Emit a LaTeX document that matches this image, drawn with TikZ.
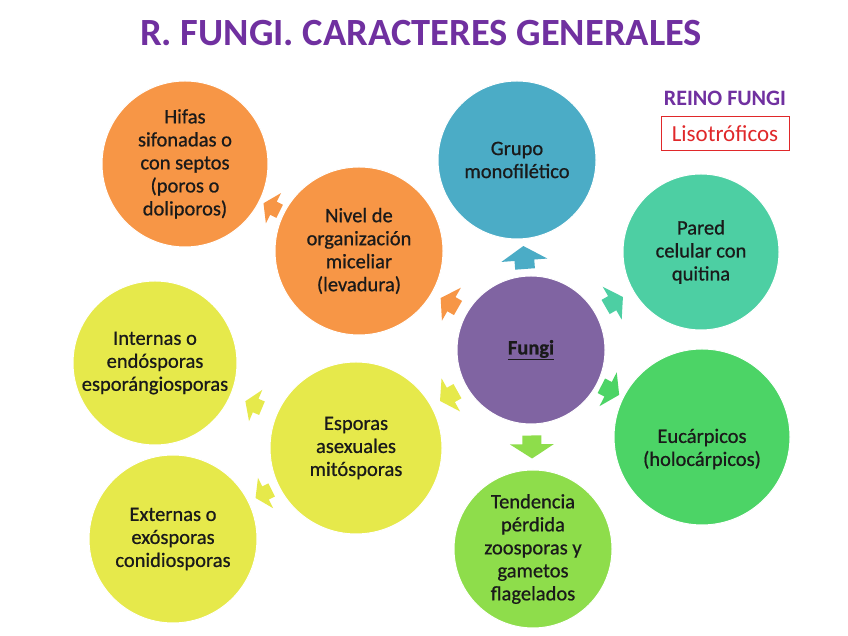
\documentclass[tikz,border=0pt]{standalone}
\usepackage{fontspec}
\setmainfont{Carlito}
\newfontfamily\circfont[FakeBold=0.7]{Carlito}
\usetikzlibrary{calc}
\definecolor{fungiC}{HTML}{8064A2}
\definecolor{blueC}{HTML}{4BACC6}
\definecolor{tealC}{HTML}{4DCFA3}
\definecolor{greenC}{HTML}{4CD466}
\definecolor{lgreenC}{HTML}{8EDD4B}
\definecolor{yellowC}{HTML}{E6E94B}
\definecolor{orangeC}{HTML}{F79646}
\definecolor{titleC}{HTML}{7030A0}
\definecolor{redC}{HTML}{E0282A}
\definecolor{txtC}{HTML}{1A1A1A}
\tikzset{
  pics/barrow/.style args={#1/#2/#3}{code={%
    \fill[#3] ({-#1/2},{-0.215*#2}) -- ({#1/2-0.62*#1},{-0.215*#2}) -- ({#1/2-0.62*#1},{-#2/2})
      -- ({#1/2},0) -- ({#1/2-0.62*#1},{#2/2}) -- ({#1/2-0.62*#1},{0.215*#2}) -- ({-#1/2},{0.215*#2}) -- cycle;}},
  circtext/.style={align=center, font=\circfont\fontsize{20.5}{23}\selectfont, text=txtC},
  circ/.style={circle, draw=white, line width=1pt, inner sep=0pt, circtext},
  onpath/.style={pos=0.5, sloped, allow upside down}
}
\begin{document}
\begin{tikzpicture}[x=1pt,y=1pt]
\useasboundingbox[fill=white] (0,0) rectangle (848,636);
% title
\node[anchor=base, font=\fontsize{38.5}{46}\bfseries\selectfont, text=titleC, inner sep=0pt] (title) at (421,590) {R. FUNGI. CARACTERES GENERALES};
\node[anchor=base, font=\fontsize{22}{26}\bfseries\selectfont, text=titleC, inner sep=0pt] (reino) at (725,530) {REINO FUNGI};
\node[draw=redC, line width=1pt, minimum width=128pt, minimum height=34pt, inner sep=0pt,
  font=\fontsize{23}{26}\selectfont, text=redC] (liso) at (725,502) {Lisotróficos};
% circles
\node[circ, fill=fungiC, minimum size=148pt] (fungi) at (531,286) {\textbf{\underline{Fungi}}};
\node[circ, fill=blueC, minimum size=158pt] (grupo) at (517,476) {Grupo\\monofilético};
\node[circ, fill=tealC, minimum size=156pt] (pared) at (701,384) {Pared\\celular con\\quitina};
\node[circ, fill=greenC, minimum size=176pt,
  label={[circtext, yshift=-12pt]center:Eucárpicos\\(holocárpicos)}] (euc) at (702,199) {};
\node[circ, fill=lgreenC, minimum size=158pt] (tend) at (533,87) {Tendencia\\pérdida\\zoosporas y\\gametos\\flagelados};
\node[circ, fill=yellowC, minimum size=172pt] (esp) at (356,188) {Esporas\\asexuales\\mitósporas};
\node[circ, fill=orangeC, minimum size=168pt] (nivel) at (359,385) {Nivel de\\organización\\miceliar\\(levadura)};
\node[circ, fill=orangeC, minimum size=166pt] (hifas) at (185,472) {Hifas\\sifonadas o\\con septos\\(poros o\\doliporos)};
\node[circ, fill=yellowC, minimum size=164pt] (intern) at (155,273) {Internas o\\endósporas\\esporángiosporas};
\node[circ, fill=yellowC, minimum size=168pt] (extern) at (173,97) {Externas o\\exósporas\\conidiosporas};
% arrows
\path (fungi) -- (grupo) pic[onpath] {barrow=23/46/blueC};
\path (fungi) -- (tend) pic[onpath] {barrow=23/44/lgreenC};
\path (fungi) -- (nivel) pic[onpath] {barrow=20/38/orangeC};
\path (fungi) -- (pared) pic[onpath] {barrow=20/38/tealC};
\path (fungi) -- (euc) pic[onpath] {barrow=20/38/greenC};
\path (fungi) -- (esp) pic[onpath] {barrow=20/38/yellowC};
\path (nivel) -- (hifas) pic[onpath] {barrow=18/34/orangeC};
\path (esp) -- (intern) pic[onpath] {barrow=18/34/yellowC};
\path (esp) -- (extern) pic[onpath] {barrow=18/34/yellowC};
\end{tikzpicture}
\end{document}
